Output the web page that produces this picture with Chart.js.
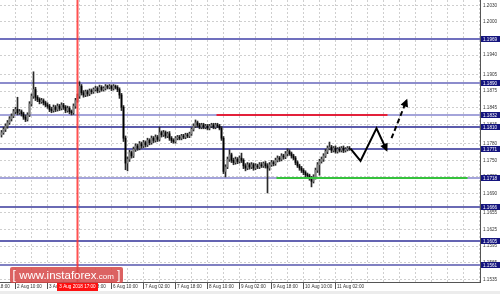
<!DOCTYPE html>
<html>
<head>
<meta charset="utf-8">
<script src="https://cdn.jsdelivr.net/npm/chart.js@4.4.1/dist/chart.umd.min.js"></script>
<style>
  html, body { margin: 0; padding: 0; background: #fff; }
  #wrap { position: relative; width: 500px; height: 294px; overflow: hidden; }
  #wm {
    position: absolute; left: 10px; top: 267px; width: 113px; height: 16px;
    background: rgba(214, 70, 70, 0.85); border-radius: 2px;
    color: #fff; font-family: "Liberation Sans", Arial, sans-serif;
    font-size: 11.5px; line-height: 16px; text-align: center; white-space: nowrap;
  }
  #wm .com { font-size: 8px; }
  #wm .br { font-size: 12px; }
</style>
</head>
<body>
<div id="wrap">
  <canvas id="chart" width="500" height="294"></canvas>
  <div id="wm"><span class="br">[</span> www.instaforex<span class="com">.com</span> <span class="br">]</span></div>
</div>
<script>
// hourly EURUSD candles, one per bar index
const opens = [
  1.1796,1.1800,1.1806,1.1812,1.1818,1.1825,1.1830,1.1838,1.1842,1.1836,
  1.1838,1.1834,1.1828,1.1824,1.1832,1.1852,1.1866,1.1878,1.1864,1.1860,
  1.1856,1.1858,1.1854,1.1850,1.1848,1.1842,1.1840,1.1846,1.1842,1.1848,
  1.1844,1.1850,1.1846,1.1840,1.1844,1.1838,1.1836,1.1848,1.1858,1.1866,
  1.1884,1.1872,1.1868,1.1874,1.1870,1.1876,1.1874,1.1878,1.1880,1.1876,
  1.1882,1.1878,1.1880,1.1884,1.1882,1.1884,1.1880,1.1884,1.1882,1.1878,
  1.1868,1.1846,1.1790,1.1745,1.1752,1.1764,1.1758,1.1770,1.1776,1.1772,
  1.1780,1.1776,1.1782,1.1778,1.1786,1.1782,1.1790,1.1786,1.1792,1.1788,
  1.1800,1.1796,1.1800,1.1794,1.1798,1.1790,1.1786,1.1784,1.1790,1.1792,
  1.1790,1.1794,1.1792,1.1796,1.1794,1.1798,1.1806,1.1812,1.1818,1.1814,
  1.1810,1.1814,1.1810,1.1812,1.1808,1.1812,1.1814,1.1810,1.1814,1.1812,
  1.1808,1.1790,1.1730,1.1738,1.1752,1.1760,1.1750,1.1746,1.1752,1.1748,
  1.1754,1.1750,1.1740,1.1736,1.1742,1.1738,1.1742,1.1736,1.1740,1.1738,
  1.1742,1.1740,1.1744,1.1740,1.1736,1.1742,1.1746,1.1744,1.1750,1.1754,
  1.1752,1.1758,1.1756,1.1762,1.1766,1.1762,1.1758,1.1754,1.1746,1.1740,
  1.1736,1.1732,1.1728,1.1724,1.1722,1.1718,1.1712,1.1720,1.1732,1.1742,
  1.1748,1.1752,1.1758,1.1766,1.1772,1.1774,1.1768,1.1772,1.1766,1.1770,
  1.1768,1.1772,1.1768,1.1770,1.1772
];
const highs = [
  1.1804,1.1810,1.1816,1.1822,1.1829,1.1834,1.1842,1.1846,1.1864,1.1842,
  1.1841,1.1837,1.1832,1.1836,1.1856,1.1870,1.1910,1.1882,1.1867,1.1863,
  1.1862,1.1861,1.1857,1.1854,1.1851,1.1846,1.1850,1.1849,1.1852,1.1851,
  1.1854,1.1853,1.1849,1.1848,1.1847,1.1841,1.1852,1.1862,1.1870,1.1892,
  1.1887,1.1876,1.1877,1.1877,1.1879,1.1879,1.1881,1.1884,1.1883,1.1886,
  1.1885,1.1883,1.1887,1.1886,1.1887,1.1886,1.1887,1.1886,1.1885,1.1881,
  1.1871,1.1849,1.1794,1.1756,1.1768,1.1767,1.1774,1.1780,1.1779,1.1784,
  1.1783,1.1786,1.1785,1.1790,1.1789,1.1794,1.1793,1.1796,1.1795,1.1810,
  1.1803,1.1804,1.1803,1.1801,1.1802,1.1793,1.1789,1.1793,1.1795,1.1795,
  1.1797,1.1797,1.1799,1.1799,1.1801,1.1809,1.1816,1.1823,1.1821,1.1817,
  1.1817,1.1817,1.1815,1.1815,1.1815,1.1817,1.1817,1.1817,1.1817,1.1815,
  1.1811,1.1793,1.1742,1.1756,1.1769,1.1763,1.1754,1.1756,1.1755,1.1758,
  1.1763,1.1753,1.1744,1.1746,1.1745,1.1746,1.1745,1.1744,1.1743,1.1746,
  1.1746,1.1747,1.1748,1.1744,1.1746,1.1750,1.1749,1.1754,1.1758,1.1757,
  1.1762,1.1761,1.1766,1.1771,1.1769,1.1765,1.1761,1.1757,1.1749,1.1743,
  1.1739,1.1735,1.1731,1.1727,1.1725,1.1721,1.1724,1.1736,1.1746,1.1752,
  1.1756,1.1762,1.1770,1.1776,1.1783,1.1777,1.1775,1.1776,1.1773,1.1774,
  1.1775,1.1776,1.1773,1.1775,1.1775
];
const lows = [
  1.1792,1.1797,1.1802,1.1808,1.1815,1.1821,1.1827,1.1834,1.1832,1.1833,
  1.1830,1.1824,1.1820,1.1821,1.1829,1.1848,1.1862,1.1858,1.1856,1.1852,
  1.1853,1.1850,1.1847,1.1844,1.1838,1.1836,1.1837,1.1838,1.1839,1.1840,
  1.1841,1.1842,1.1836,1.1837,1.1834,1.1832,1.1833,1.1844,1.1855,1.1862,
  1.1868,1.1864,1.1865,1.1866,1.1867,1.1870,1.1871,1.1875,1.1872,1.1873,
  1.1875,1.1875,1.1877,1.1879,1.1879,1.1876,1.1877,1.1879,1.1874,1.1862,
  1.1840,1.1784,1.1733,1.1731,1.1748,1.1754,1.1755,1.1766,1.1768,1.1769,
  1.1772,1.1773,1.1774,1.1775,1.1778,1.1779,1.1782,1.1783,1.1784,1.1785,
  1.1792,1.1793,1.1790,1.1791,1.1786,1.1782,1.1781,1.1781,1.1787,1.1787,
  1.1787,1.1789,1.1789,1.1791,1.1791,1.1795,1.1803,1.1809,1.1810,1.1807,
  1.1807,1.1807,1.1807,1.1805,1.1805,1.1809,1.1807,1.1807,1.1809,1.1805,
  1.1786,1.1726,1.1720,1.1735,1.1748,1.1746,1.1742,1.1743,1.1744,1.1745,
  1.1746,1.1735,1.1731,1.1733,1.1734,1.1735,1.1732,1.1733,1.1735,1.1735,
  1.1737,1.1737,1.1736,1.1691,1.1732,1.1739,1.1740,1.1741,1.1747,1.1748,
  1.1749,1.1752,1.1753,1.1758,1.1759,1.1754,1.1751,1.1742,1.1737,1.1732,
  1.1728,1.1724,1.1720,1.1718,1.1714,1.1702,1.1709,1.1716,1.1728,1.1723,
  1.1745,1.1748,1.1755,1.1762,1.1769,1.1764,1.1765,1.1763,1.1763,1.1765,
  1.1765,1.1764,1.1765,1.1767,1.1768
];
const closes = [
  1.1800,1.1806,1.1812,1.1818,1.1825,1.1830,1.1838,1.1842,1.1836,1.1838,
  1.1834,1.1828,1.1824,1.1832,1.1852,1.1866,1.1878,1.1864,1.1860,1.1856,
  1.1858,1.1854,1.1850,1.1848,1.1842,1.1840,1.1846,1.1842,1.1848,1.1844,
  1.1850,1.1846,1.1840,1.1844,1.1838,1.1836,1.1848,1.1858,1.1866,1.1884,
  1.1872,1.1868,1.1874,1.1870,1.1876,1.1874,1.1878,1.1880,1.1876,1.1882,
  1.1878,1.1880,1.1884,1.1882,1.1884,1.1880,1.1884,1.1882,1.1878,1.1868,
  1.1846,1.1790,1.1745,1.1752,1.1764,1.1758,1.1770,1.1776,1.1772,1.1780,
  1.1776,1.1782,1.1778,1.1786,1.1782,1.1790,1.1786,1.1792,1.1788,1.1800,
  1.1796,1.1800,1.1794,1.1798,1.1790,1.1786,1.1784,1.1790,1.1792,1.1790,
  1.1794,1.1792,1.1796,1.1794,1.1798,1.1806,1.1812,1.1818,1.1814,1.1810,
  1.1814,1.1810,1.1812,1.1808,1.1812,1.1814,1.1810,1.1814,1.1812,1.1808,
  1.1790,1.1730,1.1738,1.1752,1.1760,1.1750,1.1746,1.1752,1.1748,1.1754,
  1.1750,1.1740,1.1736,1.1742,1.1738,1.1742,1.1736,1.1740,1.1738,1.1742,
  1.1740,1.1744,1.1740,1.1736,1.1742,1.1746,1.1744,1.1750,1.1754,1.1752,
  1.1758,1.1756,1.1762,1.1766,1.1762,1.1758,1.1754,1.1746,1.1740,1.1736,
  1.1732,1.1728,1.1724,1.1722,1.1718,1.1712,1.1720,1.1732,1.1742,1.1748,
  1.1752,1.1758,1.1766,1.1772,1.1774,1.1768,1.1772,1.1766,1.1770,1.1768,
  1.1772,1.1768,1.1770,1.1772,1.1771
];

// support / resistance levels drawn across the chart, with their price boxes
const levels = [1.1969, 1.1890, 1.1832, 1.1810, 1.1771, 1.1718, 1.1666, 1.1605, 1.1561];
const levelColors = ['#7070be', '#8c8ccc', '#a4a4da', '#5c5cac', '#6262b0', '#a4a4da', '#6a6ab4', '#6464b2', '#8080c2'];

// price scale labels
const yTicks = [1.2030, 1.2000, 1.1970, 1.1940, 1.1905, 1.1875, 1.1845, 1.1815, 1.1780,
                1.1750, 1.1720, 1.1690, 1.1655, 1.1625, 1.1595, 1.1565, 1.1535];

// time scale: grid every 8 bars, label every 16 bars
const xGridIdx = [];
for (let v = -9; v <= 239; v += 8) xGridIdx.push(v);
const xLabelIdx = [-9, 7, 23, 39, 55, 71, 87, 103, 119, 135, 151, 167];
const xLabels = ['1 Aug 18:00', '2 Aug 10:00', '3 Aug 02:00', '3 Aug 18:00', '6 Aug 10:00', '7 Aug 02:00',
                 '7 Aug 18:00', '8 Aug 10:00', '9 Aug 02:00', '9 Aug 18:00', '10 Aug 10:00', '11 Aug 02:00'];

// crosshair bar and its label
const crossIndex = 38;
const crossLabel = '3 Aug 2018 17:00';

// drawn analysis: resistance segment, support segment, forecast arrows
const redSegX = [107.5, 193];
const redSegY = [1.1832, 1.1832];
const greenSegX = [137.5, 233];
const greenSegY = [1.1718, 1.1718];
const arrowX = [174.5, 179.5, 187.5, 192.5];
const arrowY = [1.1771, 1.1749, 1.1808, 1.1769];
const dashArrowX = [195, 202.5];
const dashArrowY = [1.1790, 1.1858];

const pts = (xs, ys) => xs.map((x, i) => ({ x: x, y: ys[i] }));
const tinyFont = '"Liberation Sans", Arial, sans-serif';

const overlay = {
  id: 'overlay',
  beforeDatasetsDraw(chart) {
    const { ctx, chartArea: a, scales: { y } } = chart;
    ctx.save();
    levels.forEach((v, k) => {
      const py = Math.round(y.getPixelForValue(v));
      ctx.strokeStyle = levelColors[k];
      ctx.lineWidth = 2;
      ctx.beginPath();
      ctx.moveTo(a.left, py);
      ctx.lineTo(a.right, py);
      ctx.stroke();
    });
    ctx.restore();
  },
  afterDatasetsDraw(chart) {
    const { ctx } = chart;
    chart.data.datasets.forEach((ds, i) => {
      if (!ds.arrowHead) return;
      const p = chart.getDatasetMeta(i).data;
      const p0 = p[p.length - 1], p1 = p[p.length - 2];
      const ang = Math.atan2(p0.y - p1.y, p0.x - p1.x);
      const tx = p0.x + Math.cos(ang) * 2, ty = p0.y + Math.sin(ang) * 2;
      const len = 8, half = 4;
      ctx.save();
      ctx.fillStyle = '#000';
      ctx.beginPath();
      ctx.moveTo(tx, ty);
      ctx.lineTo(tx - len * Math.cos(ang) + half * Math.sin(ang), ty - len * Math.sin(ang) - half * Math.cos(ang));
      ctx.lineTo(tx - len * Math.cos(ang) - half * Math.sin(ang), ty - len * Math.sin(ang) + half * Math.cos(ang));
      ctx.closePath();
      ctx.fill();
      ctx.restore();
    });
  },
  afterDraw(chart) {
    const { ctx, chartArea: a, scales: { x, y } } = chart;
    ctx.save();
    // red crosshair
    const cx = Math.floor(x.getPixelForValue(crossIndex));
    ctx.fillStyle = 'rgba(255, 50, 50, 0.85)';
    ctx.fillRect(cx - 0.5, a.top, 2, a.bottom - a.top);
    // price boxes on the right scale
    ctx.font = '4.6px ' + tinyFont;
    ctx.textBaseline = 'middle';
    levels.forEach(v => {
      const py = Math.round(y.getPixelForValue(v));
      ctx.fillStyle = '#14147e';
      ctx.fillRect(a.right + 1, py - 3, 20, 6);
      ctx.fillStyle = '#fff';
      ctx.fillText(v.toFixed(4), a.right + 3, py + 0.5);
    });
    // tick marks under the time labels
    ctx.strokeStyle = '#555';
    ctx.lineWidth = 1;
    xLabelIdx.forEach(v => {
      const px = Math.floor(x.getPixelForValue(v)) + 0.5;
      ctx.beginPath();
      ctx.moveTo(px, a.bottom);
      ctx.lineTo(px, a.bottom + 7);
      ctx.stroke();
    });
    // crosshair time label
    ctx.fillStyle = '#ff1010';
    ctx.fillRect(cx - 20, a.bottom + 1, 41, 8);
    ctx.fillStyle = '#fff';
    ctx.textAlign = 'center';
    ctx.fillText(crossLabel, cx + 0.5, a.bottom + 5);
    // bottom strip
    ctx.fillStyle = '#ececec';
    ctx.fillRect(0, 291, 500, 3);
    ctx.restore();
  }
};

const bodyColors = closes.map((c, i) => c < opens[i] ? '#000000' : '#808080');

new Chart(document.getElementById('chart'), {
  type: 'bar',
  data: {
    datasets: [
      {
        label: 'wick',
        data: closes.map((c, i) => ({ x: i, y: [lows[i], highs[i]] })),
        backgroundColor: '#2a2a2a',
        barThickness: 1,
        grouped: false,
        order: 5
      },
      {
        label: 'body',
        data: closes.map((c, i) => ({ x: i, y: [opens[i], c] })),
        backgroundColor: bodyColors,
        barThickness: 1,
        grouped: false,
        order: 4
      },
      {
        type: 'line', label: 'resistance', data: pts(redSegX, redSegY),
        borderColor: '#e3203a', borderWidth: 2, pointRadius: 0, order: 2
      },
      {
        type: 'line', label: 'support', data: pts(greenSegX, greenSegY),
        borderColor: '#35c23d', borderWidth: 2, pointRadius: 0, order: 2
      },
      {
        type: 'line', label: 'forecast', data: pts(arrowX, arrowY),
        borderColor: '#000', borderWidth: 2, pointRadius: 0, order: 1, arrowHead: true,
        borderJoinStyle: 'miter'
      },
      {
        type: 'line', label: 'forecast2', data: pts(dashArrowX, dashArrowY),
        borderColor: '#000', borderWidth: 2, borderDash: [5, 3], pointRadius: 0, order: 1, arrowHead: true
      }
    ]
  },
  options: {
    responsive: false,
    animation: false,
    layout: { padding: 0 },
    plugins: { legend: { display: false }, tooltip: { enabled: false } },
    scales: {
      x: {
        type: 'linear',
        min: -0.75,
        max: 239.25,
        offset: false,
        afterBuildTicks: s => { s.ticks = xGridIdx.map(v => ({ value: v })); },
        afterFit: s => { s.height = 12; s.paddingLeft = 0; s.paddingRight = 0; },
        grid: { offset: false, color: '#cfcfcf', drawTicks: false },
        border: { display: true, color: '#555', dash: [2, 2] },
        ticks: {
          autoSkip: false, maxRotation: 0, minRotation: 0, align: 'start',
          labelOffset: 1.5, padding: 2, color: '#333',
          font: { size: 4.6, family: tinyFont },
          callback: v => { const k = xLabelIdx.indexOf(v); return k >= 0 ? xLabels[k] : ''; }
        }
      },
      y: {
        position: 'right',
        min: 1.153009,
        max: 1.203976,
        afterBuildTicks: s => { s.ticks = yTicks.map(v => ({ value: v })); },
        afterFit: s => { s.width = 20; s.paddingTop = 0; s.paddingBottom = 0; },
        grid: { color: '#cfcfcf', drawTicks: false },
        border: { display: true, color: '#555', dash: [2, 2] },
        ticks: {
          padding: 3, color: '#333',
          font: { size: 4.6, family: tinyFont },
          callback: v => v.toFixed(4)
        }
      }
    }
  },
  plugins: [overlay]
});
</script>
</body>
</html>
